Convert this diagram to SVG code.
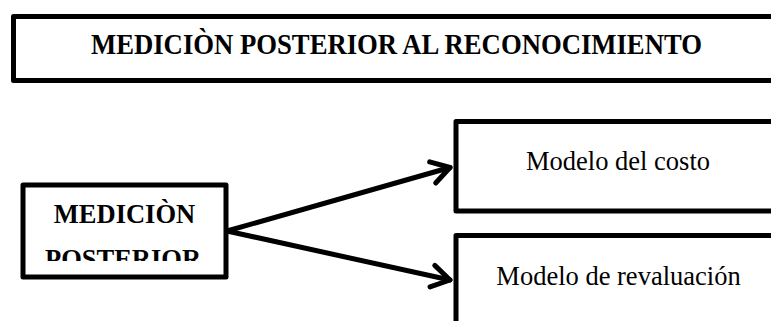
<svg xmlns="http://www.w3.org/2000/svg" width="771" height="321" viewBox="0 0 771 321">
  <style>
    .box { fill: #ffffff; stroke: #000000; stroke-width: 5; stroke-linejoin: round; }
    .bold { font-family: "Liberation Serif", "Times New Roman", serif; font-weight: bold; fill: #000000; }
    .reg { font-family: "Liberation Serif", "Times New Roman", serif; fill: #000000; }
    .conn { stroke: #000000; stroke-width: 5; fill: none; stroke-linecap: round; }
  </style>
  <defs>
    <marker id="arrow" viewBox="-25 -15 30 30" refX="0" refY="0" markerWidth="30" markerHeight="30" orient="auto" markerUnits="userSpaceOnUse" overflow="visible">
      <path d="M -18,-11 L 0,0 L -18,11" fill="none" stroke="#000000" stroke-width="5" stroke-linecap="round" stroke-linejoin="round"/>
    </marker>
    <clipPath id="clipLeft">
      <rect x="0" y="0" width="771" height="261"/>
    </clipPath>
  </defs>
  <rect width="771" height="321" fill="#ffffff"/>

  <g id="title">
    <rect class="box" x="13.5" y="16.5" width="800" height="64"/>
    <text class="bold" x="396.5" y="54" font-size="28.5" text-anchor="middle" textLength="611" lengthAdjust="spacingAndGlyphs">MEDICIÒN POSTERIOR AL RECONOCIMIENTO</text>
  </g>

  <g id="connectors">
    <line class="conn" x1="227" y1="231" x2="450" y2="167.5" marker-end="url(#arrow)"/>
    <line class="conn" x1="227" y1="231" x2="450" y2="280" marker-end="url(#arrow)"/>
  </g>

  <g id="medicion-posterior">
    <rect class="box" x="23" y="185" width="203" height="92"/>
    <text class="bold" x="124.5" y="223" font-size="26.5" text-anchor="middle">MEDICIÒN</text>
    <text class="bold" x="123" y="268" font-size="26.5" text-anchor="middle" clip-path="url(#clipLeft)">POSTERIOR</text>
  </g>

  <g id="modelo-costo">
    <rect class="box" x="456" y="121.5" width="360" height="89.5"/>
    <text class="reg" x="618" y="170" font-size="26.5" text-anchor="middle">Modelo del costo</text>
  </g>

  <g id="modelo-revaluacion">
    <rect class="box" x="456" y="235.5" width="360" height="120"/>
    <text class="reg" x="618.5" y="285" font-size="26.5" text-anchor="middle">Modelo de revaluación</text>
  </g>
</svg>
